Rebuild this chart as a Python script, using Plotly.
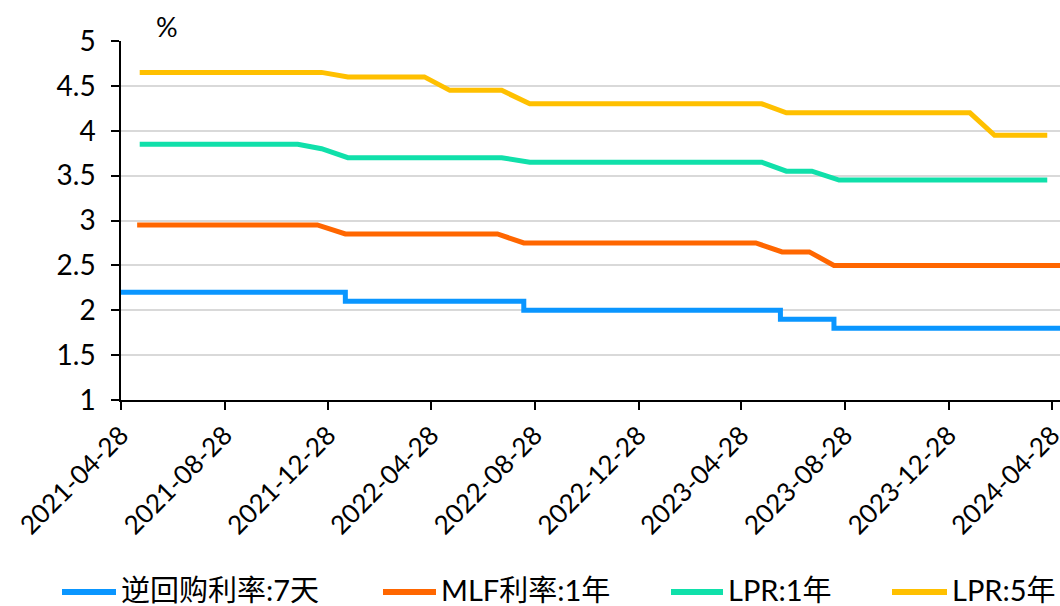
import plotly.graph_objects as go

# ---- data -------------------------------------------------------------
series_names = ["逆回购利率:7天", "MLF利率:1年", "LPR:1年", "LPR:5年"]
series_colors = ["#0A96FF", "#FF6600", "#10E0AA", "#FFC000"]

# 7-day reverse repo: rate changes (step series)
repo_dates = ["2021-04-01", "2022-01-17", "2022-08-15", "2023-06-13",
              "2023-08-15", "2024-05-31"]
repo_rate = [2.20, 2.10, 2.00, 1.90, 1.80, 1.80]

# 1-year MLF: monthly operations
mlf_dates = [
    "2021-05-17", "2021-06-15", "2021-07-15", "2021-08-17", "2021-09-15",
    "2021-10-15", "2021-11-15", "2021-12-15",
    "2022-01-17", "2022-02-15", "2022-03-15", "2022-04-15", "2022-05-16",
    "2022-06-15", "2022-07-15", "2022-08-15", "2022-09-15", "2022-10-17",
    "2022-11-15", "2022-12-15",
    "2023-01-17", "2023-02-15", "2023-03-15", "2023-04-17", "2023-05-15",
    "2023-06-15", "2023-07-17", "2023-08-15", "2023-09-15", "2023-10-16",
    "2023-11-15", "2023-12-15",
    "2024-01-15", "2024-02-18", "2024-03-15", "2024-04-17", "2024-05-15",
]
mlf_rate = [
    2.95, 2.95, 2.95, 2.95, 2.95, 2.95, 2.95, 2.95,
    2.85, 2.85, 2.85, 2.85, 2.85, 2.85, 2.85, 2.75, 2.75, 2.75, 2.75, 2.75,
    2.75, 2.75, 2.75, 2.75, 2.75, 2.65, 2.65, 2.50, 2.50, 2.50, 2.50, 2.50,
    2.50, 2.50, 2.50, 2.50, 2.50,
]

# LPR: monthly fixings
lpr_dates = [
    "2021-05-20", "2021-06-21", "2021-07-20", "2021-08-20", "2021-09-22",
    "2021-10-20", "2021-11-22", "2021-12-20",
    "2022-01-20", "2022-02-21", "2022-03-21", "2022-04-20", "2022-05-20",
    "2022-06-20", "2022-07-20", "2022-08-22", "2022-09-20", "2022-10-20",
    "2022-11-21", "2022-12-20",
    "2023-01-20", "2023-02-20", "2023-03-20", "2023-04-20", "2023-05-22",
    "2023-06-20", "2023-07-20", "2023-08-21", "2023-09-20", "2023-10-20",
    "2023-11-20", "2023-12-20",
    "2024-01-22", "2024-02-20", "2024-03-20", "2024-04-22",
]
lpr_1y = [
    3.85, 3.85, 3.85, 3.85, 3.85, 3.85, 3.85, 3.80,
    3.70, 3.70, 3.70, 3.70, 3.70, 3.70, 3.70, 3.65, 3.65, 3.65, 3.65, 3.65,
    3.65, 3.65, 3.65, 3.65, 3.65, 3.55, 3.55, 3.45, 3.45, 3.45, 3.45, 3.45,
    3.45, 3.45, 3.45, 3.45,
]
lpr_5y = [
    4.65, 4.65, 4.65, 4.65, 4.65, 4.65, 4.65, 4.65,
    4.60, 4.60, 4.60, 4.60, 4.45, 4.45, 4.45, 4.30, 4.30, 4.30, 4.30, 4.30,
    4.30, 4.30, 4.30, 4.30, 4.30, 4.20, 4.20, 4.20, 4.20, 4.20, 4.20, 4.20,
    4.20, 3.95, 3.95, 3.95,
]

x_ticks = ["2021-04-28", "2021-08-28", "2021-12-28", "2022-04-28",
           "2022-08-28", "2022-12-28", "2023-04-28", "2023-08-28",
           "2023-12-28", "2024-04-28"]
y_ticks = [1, 1.5, 2, 2.5, 3, 3.5, 4, 4.5, 5]
y_tick_text = ["1", "1.5", "2", "2.5", "3", "3.5", "4", "4.5", "5"]

# ---- layout helpers ---------------------------------------------------
W, H = 1060, 606
M_L, M_R, M_T, M_B = 121, 0, 41, 206
PW, PH = W - M_L - M_R, H - M_T - M_B

FONT = "Lato, 'Noto Sans CJK SC', sans-serif"


def px_x(px):
    return (px - M_L) / PW


def px_y(py):
    return (H - M_B - py) / PH


# ---- figure -----------------------------------------------------------
fig = go.Figure()

fig.add_trace(go.Scatter(x=repo_dates, y=repo_rate, mode="lines",
                         line=dict(color=series_colors[0], width=5, shape="hv"),
                         name=series_names[0]))
fig.add_trace(go.Scatter(x=mlf_dates, y=mlf_rate, mode="lines",
                         line=dict(color=series_colors[1], width=5),
                         name=series_names[1]))
fig.add_trace(go.Scatter(x=lpr_dates, y=lpr_1y, mode="lines",
                         line=dict(color=series_colors[2], width=5),
                         name=series_names[2]))
fig.add_trace(go.Scatter(x=lpr_dates, y=lpr_5y, mode="lines",
                         line=dict(color=series_colors[3], width=5),
                         name=series_names[3]))

# legend drawn as line samples + labels along the bottom
legend_line_px = [(62, 116), (383, 436), (671, 723), (892, 947)]
legend_y_px = 592
shapes = []
annotations = []
for (x0, x1), name, color in zip(legend_line_px, series_names, series_colors):
    shapes.append(dict(type="line", xref="paper", yref="paper",
                       x0=px_x(x0), x1=px_x(x1),
                       y0=px_y(legend_y_px), y1=px_y(legend_y_px),
                       line=dict(color=color, width=6)))
    annotations.append(dict(xref="paper", yref="paper", x=px_x(x1 + 3),
                            y=px_y(legend_y_px - 3), text=name,
                            showarrow=False,
                            xanchor="left", yanchor="middle",
                            font=dict(family=FONT, size=29, color="#000000")))

annotations.append(dict(xref="paper", yref="paper", x=px_x(167), y=px_y(27),
                        text="%", showarrow=False, xanchor="center",
                        yanchor="middle",
                        font=dict(family=FONT, size=27, color="#000000")))

fig.update_layout(
    width=W, height=H,
    margin=dict(l=M_L, r=M_R, t=M_T, b=M_B, pad=0, autoexpand=False),
    paper_bgcolor="white", plot_bgcolor="white",
    showlegend=False,
    font=dict(family=FONT, size=27, color="#000000"),
    shapes=shapes,
    annotations=annotations,
)

fig.update_xaxes(
    type="date",
    range=["2021-04-28", "2024-05-07"],
    tickvals=x_ticks, ticktext=x_ticks,
    tickangle=-45,
    ticklabeloverflow="allow",
    automargin=False,
    ticks="outside", ticklen=8, tickwidth=1.5, tickcolor="#000000",
    showline=True, linecolor="#000000", linewidth=1.5,
    showgrid=False, zeroline=False,
    tickfont=dict(family=FONT, size=26, color="#000000"),
)
fig.update_yaxes(
    range=[1, 5],
    tickvals=y_ticks, ticktext=y_tick_text,
    automargin=False,
    ticks="outside", ticklen=8, tickwidth=1.5, tickcolor="#000000",
    showline=True, linecolor="#000000", linewidth=1.5,
    showgrid=True, gridcolor="#D9D9D9", gridwidth=1.5,
    zeroline=False,
    ticklabelstandoff=10,
    tickfont=dict(family=FONT, size=28, color="#000000"),
)

fig.write_html("out.html")
